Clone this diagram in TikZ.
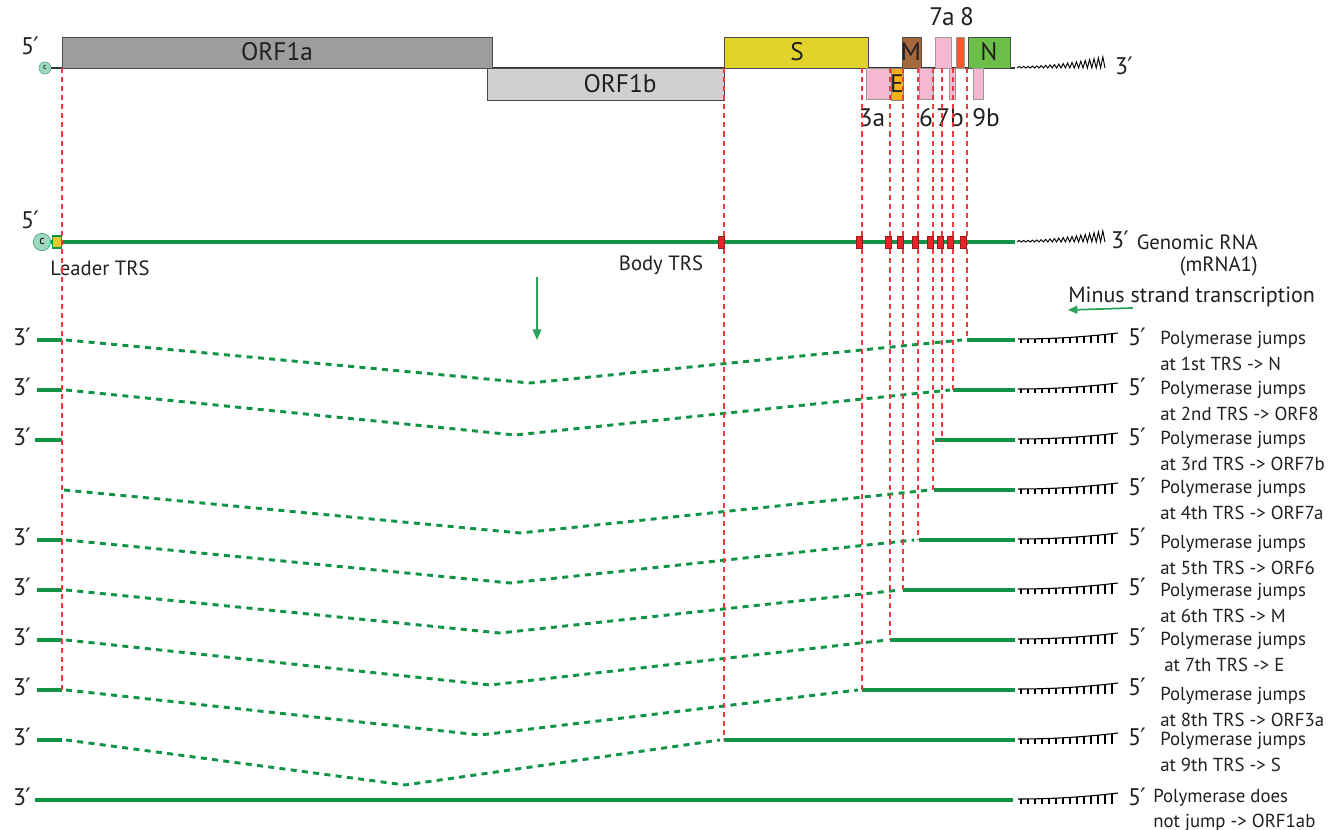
\documentclass[tikz,border=0pt]{standalone}
\usepackage{fontspec}
\setmainfont{PT Sans}
\newfontfamily\primefont{DejaVu Sans}
\newcommand\pmark{{\primefont\kern-0.5pt′}}
\usetikzlibrary{arrows.meta}
\definecolor{gOne}{HTML}{9D9D9D}
\definecolor{gTwo}{HTML}{D0D0D0}
\definecolor{yS}{HTML}{E3D22B}
\definecolor{pk}{HTML}{F4B8D3}
\definecolor{oE}{HTML}{F7B416}
\definecolor{bM}{HTML}{A5693C}
\definecolor{rEight}{HTML}{F15A29}
\definecolor{gN}{HTML}{6CC04A}
\definecolor{rnaG}{HTML}{0F9447}
\definecolor{arrG}{HTML}{2BA35B}
\definecolor{capF}{HTML}{9FD8C0}
\definecolor{capD}{HTML}{5AAB8A}
\definecolor{trsR}{HTML}{E8242A}
\definecolor{trsD}{HTML}{9D1B1F}
\definecolor{dashR}{HTML}{EE3A3A}
\definecolor{txt}{HTML}{231F20}
\tikzset{
  gene/.style={draw=black!70, line width=0.6pt},
  rna/.style={rnaG, line width=3pt},
  jump/.style={rnaG, line width=2.2pt, dash pattern=on 4.5pt off 4pt},
  reddash/.style={dashR, line width=1.1pt, dash pattern=on 3.8pt off 3pt},
  trs/.style={fill=trsR, draw=trsD, line width=0.5pt, minimum width=4.5pt, minimum height=9pt, inner sep=0pt},
  glbl/.style={text=txt, inner sep=0pt, font=\fontsize{19}{22}\selectfont},
  lbl/.style={text=txt, inner sep=0pt, font=\fontsize{15.5}{18}\selectfont},
  prime/.style={text=txt, inner sep=0pt, font=\fontsize{18}{20}\selectfont},
  desc/.style={text=txt, inner sep=0pt, anchor=west, align=left, font=\fontsize{14.1}{19}\selectfont},
  utail/.pic={
    \draw[black, line width=0.8pt] plot[domain=0:100, samples=40] ({\x},{-1-6*(\x/100)^2});
    \foreach \i in {0,...,13}{
      \pgfmathsetmacro\xx{3+7*\i}
      \draw[black, line width=0.8pt] (\xx,{-1-6*(\xx/100)^2}) -- (\xx,3.5);
    }
  },
  polya/.pic={
    \draw[black, line width=0.7pt, line join=miter] (0,0) \foreach \i [evaluate=\i as \a using 1.5+0.024*\i*\i] in {1,...,20} { -- ++(2.2,-\a) -- ++(2.2,\a) };
  }
}
\begin{document}
\begin{tikzpicture}[x=0.75pt,y=-0.75pt]
\useasboundingbox[fill=white] (0,0) rectangle (1331,830);

% ---------- genome map ----------
\draw[black!80, line width=1.1pt] (50,68) -- (1015,68);
\draw[gene, fill=gOne] (62,37) rectangle (492,68);
\node[glbl] (orf1a) at (277,52) {ORF1a};
\draw[gene, fill=gTwo] (487,68) rectangle (724,100);
\node[glbl] (orf1b) at (620,84) {ORF1b};
\draw[gene, fill=yS] (724,37) rectangle (868,68);
\node[glbl] (s) at (797,52) {S};
\draw[gene, fill=pk, draw=black!40] (866,68) rectangle (891,99);
\draw[gene, fill=oE, draw=black!50] (891,68) rectangle (903,100);
\node[glbl] (e) at (897,84) {E};
\draw[gene, fill=bM] (902,37) rectangle (921,68);
\node[glbl] (m) at (911,52) {M};
\draw[gene, fill=pk, draw=black!40] (919,68) rectangle (933,99);
\draw[gene, fill=pk, draw=black!40] (935,37) rectangle (951,68);
\draw[gene, fill=pk, draw=black!40] (949,68) rectangle (955,99);
\draw[gene, fill=rEight, draw=black!40] (956,37) rectangle (964,68);
\draw[gene, fill=gN] (968,37) rectangle (1010,68);
\node[glbl] (n) at (989,52) {N};
\draw[gene, fill=pk, draw=black!40] (973,68) rectangle (983,99);
\node[glbl] (l7a) at (942,17) {7a};
\node[glbl] (l8) at (967,17) {8};
\node[glbl] (l3a) at (872,118) {3a};
\node[glbl] (l6) at (926,118) {6};
\node[glbl] (l7b) at (950,118) {7b};
\node[glbl] (l9b) at (986,118) {9b};
\pic at (1017,68) {polya};
\node[prime] (top3) at (1124,66) {3\pmark};
\node[prime] (top5) at (30,46) {5\pmark};
\node[circle, fill=capF, draw=capD, line width=0.5pt, minimum size=9pt, inner sep=0pt, font=\fontsize{6}{6}\selectfont] (cap1) at (45,68) {c};

% ---------- genomic RNA ----------
\draw[rna] (50,242) -- (1015,242);
\node[circle, fill=capF, draw=capD, line width=0.6pt, minimum size=13pt, inner sep=0pt, font=\fontsize{9}{9}\selectfont] (cap2) at (42,242) {c};
\node[fill=yS!90!orange, draw=rnaG, line width=1pt, minimum width=7pt, minimum height=9pt, inner sep=0pt] (leader) at (57,242) {};
\pic at (1017,242) {polya};
\node[prime] (g3) at (1120,240) {3\pmark};
\node[prime] (g5) at (30,220) {5\pmark};
\node[lbl, anchor=east] (genomic) at (1258,242) {Genomic RNA};
\node[lbl, anchor=east] (mrna) at (1258,266) {(mRNA1)};
\node[lbl] (leadertrs) at (100,268) {Leader TRS};
\node[lbl] (bodytrs) at (661,265) {Body TRS};
\node[lbl, anchor=west, font=\fontsize{16.5}{19}\selectfont] (minus) at (1068,297) {Minus strand transcription};
\coordinate (ma) at (1133,308);
\coordinate (mb) at (1068,310);
\draw[arrG, line width=1.3pt, -{Triangle[length=7pt, width=6pt]}] (ma) -- (mb);
\coordinate (da) at (537,277);
\coordinate (db) at (537,340);
\draw[arrG, line width=1.2pt, -{Triangle[length=8pt, width=6.5pt]}] (da) -- (db);

% ---------- subgenomic rows ----------
% row 1
\draw[rna] (37,340) -- (62,340);
\draw[jump] (66,340) -- (530,383) -- (962,340);
\draw[rna] (967,340) -- (1015,340);
% row 2
\draw[rna] (37,390) -- (62,390);
\draw[jump] (66,390) -- (515,435) -- (950,390);
\draw[rna] (953,390) -- (1015,390);
% row 3
\draw[rna] (35,440) -- (62,440);
\draw[rna] (935,440) -- (1015,440);
% row 4
\draw[jump] (64,490) -- (520,533) -- (930,490);
\draw[rna] (934,490) -- (1015,490);
% row 5
\draw[rna] (37,540) -- (62,540);
\draw[jump] (66,540) -- (510,583) -- (914,540);
\draw[rna] (919,540) -- (1015,540);
% row 6
\draw[rna] (37,590) -- (62,590);
\draw[jump] (66,590) -- (500,633) -- (900,590);
\draw[rna] (903,590) -- (1015,590);
% row 7
\draw[rna] (37,640) -- (62,640);
\draw[jump] (66,640) -- (490,685) -- (887,640);
\draw[rna] (890,640) -- (1015,640);
% row 8
\draw[rna] (37,690) -- (62,690);
\draw[jump] (66,690) -- (480,735) -- (858,690);
\draw[rna] (862,690) -- (1015,690);
% row 9
\draw[rna] (37,740) -- (62,740);
\draw[jump] (66,740) -- (405,785) -- (720,740);
\draw[rna] (724,740) -- (1015,740);
% row 10
\draw[rna] (35,800) -- (1013,800);

% 3' labels left
\foreach \y/\n in {340/1,390/2,440/3,540/5,590/6,640/7,690/8,740/9,800/10}{
  \node[prime] (l3p\n) at (22,\y-3) {3\pmark};
}
% tails and 5' labels right
\foreach \y/\n in {340/1,390/2,440/3,490/4,540/5,590/6,640/7,690/8,740/9,800/10}{
  \pic at (1018,\y) {utail};
  \node[prime] (r5p\n) at (1137,\y-3) {5\pmark};
}
\node[desc] (t1) at (1160,351) {Polymerase jumps\\at 1st TRS -> N};
\node[desc] (t2) at (1160,401) {Polymerase jumps\\at 2nd TRS -> ORF8};
\node[desc] (t3) at (1160,451) {Polymerase jumps\\at 3rd TRS -> ORF7b};
\node[desc] (t4) at (1160,500) {Polymerase jumps\\at 4th TRS -> ORF7a};
\node[desc] (t5) at (1160,555) {Polymerase jumps\\at 5th TRS -> ORF6};
\node[desc] (t6) at (1160,603) {Polymerase jumps\\at 6th TRS -> M};
\node[desc] (t7) at (1160,652) {Polymerase jumps\\\hspace*{3pt}at 7th TRS -> E};
\node[desc] (t8) at (1160,707) {Polymerase jumps\\at 8th TRS -> ORF3a};
\node[desc] (t9) at (1160,752) {Polymerase jumps\\at 9th TRS -> S};
\node[desc] (t10) at (1153,810) {Polymerase does\\not jump -> ORF1ab};

% ---------- red dashed guide lines ----------
\foreach \x/\y/\n in {967/340/1, 953/390/2, 942/440/3, 933/490/4, 918/540/5, 903/590/6, 890/640/7, 862/690/8, 724/740/9, 62/690/L}{
  \coordinate (vt\n) at (\x,68);
  \coordinate (vb\n) at (\x,\y);
  \draw[reddash] (vt\n) -- (vb\n);
}
% TRS marks on genomic RNA
\foreach \x/\n in {721/a,859/b,888/c,900/d,915/e,930/f,940/g,950/h,963/i}{
  \node[trs] (trs\n) at (\x,242) {};
}
\end{tikzpicture}
\end{document}
